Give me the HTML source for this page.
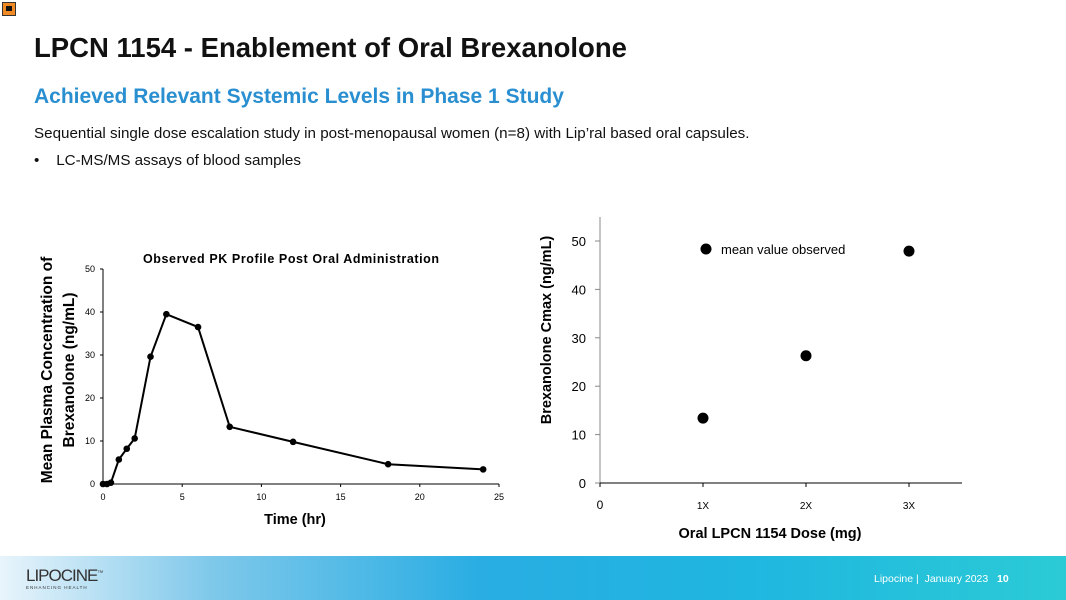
<!DOCTYPE html>
<html><head><meta charset="utf-8"><style>
body{margin:0;width:1066px;height:600px;overflow:hidden;background:#fff;font-family:"Liberation Sans",sans-serif;position:relative}
.abs{position:absolute;white-space:nowrap}
</style></head><body>
<div class="abs" style="left:2px;top:2px;width:14px;height:14px;background:#f08a24;border:1px solid #333;box-sizing:border-box"><div style="position:absolute;left:3px;top:3px;width:6px;height:5px;background:#111"></div></div>
<div class="abs" style="left:34px;top:32px;font-size:27.5px;font-weight:bold;color:#111">LPCN 1154 - Enablement of Oral Brexanolone</div>
<div class="abs" style="left:34px;top:85px;font-size:21px;font-weight:bold;color:#2a8fd0">Achieved Relevant Systemic Levels in Phase 1 Study</div>
<div class="abs" style="left:34px;top:125px;font-size:15.2px;color:#111">Sequential single dose escalation study in post-menopausal women (n=8) with Lip’ral based oral capsules.</div>
<div class="abs" style="left:34px;top:152px;font-size:15.2px;color:#111">•&nbsp;&nbsp;&nbsp;&nbsp;LC-MS/MS assays of blood samples</div>

<svg class="abs" style="left:0;top:0" width="1066" height="600" font-family="Liberation Sans, sans-serif">
<g id="left"></g>
<g id="right"></g>
</svg>

<div class="abs" style="left:0;top:556px;width:1066px;height:44px;background:linear-gradient(90deg,#e8f4fb 0%,#7ec8ea 20%,#29ade3 45%,#1fb6e0 70%,#2bcbd6 100%)"></div>
<div class="abs" style="left:26px;top:566px;font-size:17px;color:#333;letter-spacing:-1px">LIPOCINE<sup style="font-size:6px">™</sup></div>
<div class="abs" style="left:26px;top:585px;font-size:4.5px;color:#333;letter-spacing:1px">ENHANCING HEALTH</div>
<div class="abs" style="left:874px;top:573px;font-size:10.5px;color:#fff">Lipocine |&nbsp; January 2023 &nbsp;&nbsp;<b>10</b></div>

<script>
const pkTimes=[0,0.25,0.5,1,1.5,2,3,4,6,8,12,18,24];
const pkConc=[0,0,0.3,5.7,8.2,10.6,29.6,39.5,36.5,13.3,9.8,4.6,3.4];
const pkXTicks=[0,5,10,15,20,25];
const pkYTicks=[0,10,20,30,40,50];
const doseLabels=["1X","2X","3X"];
const doseIdx=[1,2,3];
const cmaxVals=[13.4,26.3,47.9];
const cmaxYTicks=[0,10,20,30,40,50];
const NS="http://www.w3.org/2000/svg";
function mk(p,t,a,txt){const e=document.createElementNS(NS,t);for(const k in a)e.setAttribute(k,a[k]);if(txt!==undefined)e.textContent=txt;p.appendChild(e);return e;}
// left
const L=document.getElementById('left');
const lx=v=>103+v*(499-103)/25, ly=v=>484-v*(484-269)/50;
let e=mk(L,'line',{x1:103,y1:269,x2:103,y2:484,stroke:'#000'});
e=mk(L,'line',{x1:103,y1:484,x2:499,y2:484,stroke:'#000'});
pkYTicks.forEach(t=>{mk(L,'line',{x1:100,x2:103,y1:ly(t),y2:ly(t),stroke:'#000'});e=mk(L,'text',{x:95,y:ly(t)+3,'font-size':9,'text-anchor':'end'},t);});
pkXTicks.forEach(t=>{mk(L,'line',{x1:lx(t),x2:lx(t),y1:484,y2:487,stroke:'#000'});e=mk(L,'text',{x:lx(t),y:500,'font-size':9,'text-anchor':'middle'},t);});
e=mk(L,'polyline',{points:pkTimes.map((t,i)=>lx(t)+','+ly(pkConc[i])).join(' '),fill:'none',stroke:'#000','stroke-width':2});
pkTimes.forEach((t,i)=>{e=mk(L,'circle',{cx:lx(t),cy:ly(pkConc[i]),r:3.3,fill:'#000'});});
e=mk(L,'text',{x:291,y:263,'font-size':12.5,'font-weight':'bold','text-anchor':'middle','textLength':296},'Observed PK Profile  Post  Oral Administration');
e=mk(L,'text',{x:295,y:524,'font-size':14.5,'font-weight':'bold','text-anchor':'middle'},'Time (hr)');
e=mk(L,'text',{transform:'translate(52,370) rotate(-90)','font-size':15.5,'font-weight':'bold','text-anchor':'middle'},'Mean Plasma Concentration of');
e=mk(L,'text',{transform:'translate(74,370) rotate(-90)','font-size':15.5,'font-weight':'bold','text-anchor':'middle'},'Brexanolone (ng/mL)');
// right
const R=document.getElementById('right');
const rx=v=>600+v*(703-600), ry=v=>483-v*(483-241)/50;
e=mk(R,'line',{x1:600,y1:217,x2:600,y2:483,stroke:'#888'});
e=mk(R,'line',{x1:600,y1:483,x2:962,y2:483,stroke:'#000'});
cmaxYTicks.forEach(t=>{mk(R,'line',{x1:595,x2:600,y1:ry(t),y2:ry(t),stroke:'#888'});e=mk(R,'text',{x:586,y:ry(t)+5,'font-size':13,'text-anchor':'end'},t);});
[0].concat(doseIdx).forEach(d=>mk(R,'line',{x1:rx(d),x2:rx(d),y1:483,y2:487,stroke:'#000'}));
e=mk(R,'text',{x:600,y:509,'font-size':12,'text-anchor':'middle'},'0');
doseIdx.forEach((d,i)=>{e=mk(R,'text',{x:rx(d),y:509,'font-size':10,'text-anchor':'middle'},doseLabels[i]);});
doseIdx.forEach((d,i)=>{e=mk(R,'circle',{cx:rx(d),cy:ry(cmaxVals[i]),r:5.5,fill:'#000'});});
e=mk(R,'circle',{cx:706,cy:249,r:5.5,fill:'#000'});
e=mk(R,'text',{x:721,y:254,'font-size':13},'mean value observed');
e=mk(R,'text',{x:770,y:538,'font-size':14.5,'font-weight':'bold','text-anchor':'middle'},'Oral LPCN 1154 Dose (mg)');
e=mk(R,'text',{transform:'translate(551,330) rotate(-90)','font-size':14.5,'font-weight':'bold','text-anchor':'middle'},'Brexanolone Cmax (ng/mL)');
</script>
</body></html>
